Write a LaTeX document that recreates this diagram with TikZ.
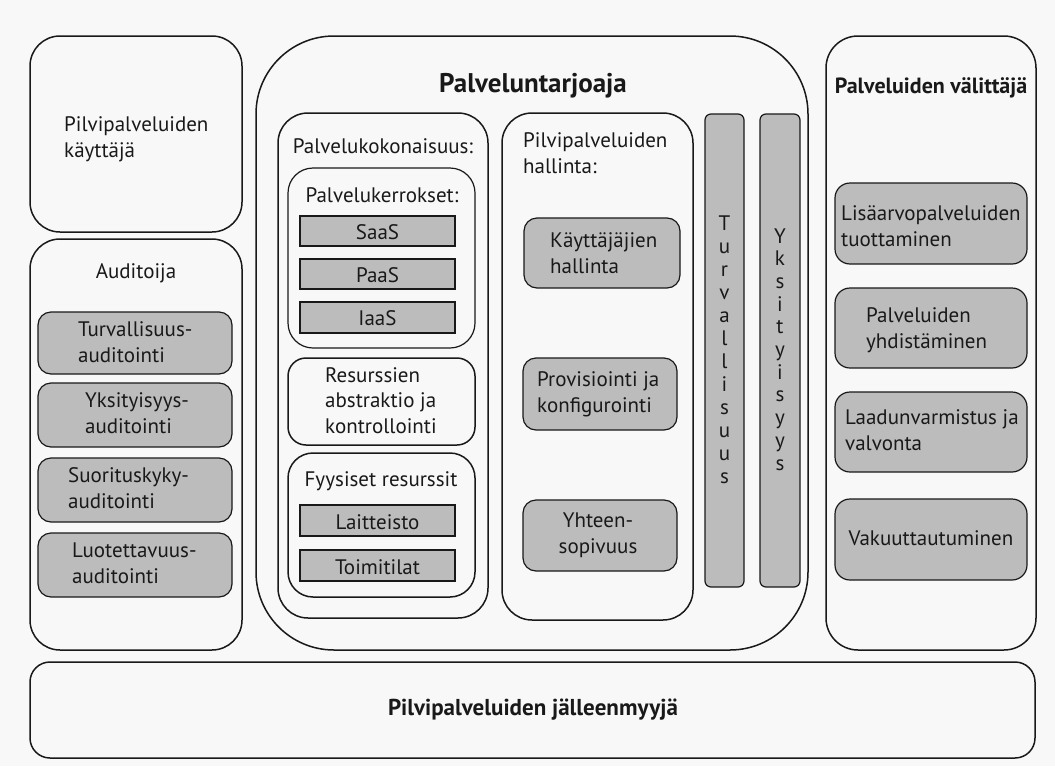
\documentclass[tikz,border=0pt]{standalone}
\usepackage{fontspec}
\setmainfont{PT Sans}
\definecolor{boxgray}{RGB}{188,188,188}
\definecolor{pagebg}{RGB}{248,248,248}
\definecolor{ink}{RGB}{25,25,25}
\tikzset{
  frame/.style={draw=ink, line width=1.5pt, inner sep=0pt, outer sep=0pt, anchor=north west},
  container/.style={frame, rounded corners=30pt},
  greybox/.style={frame, fill=boxgray, line width=1.2pt, rounded corners=13pt},
  layerbox/.style={frame, fill=boxgray, line width=1.2pt},
  columnbox/.style={frame, fill=boxgray, line width=1.2pt, rounded corners=6pt},
  txt/.style={inner sep=0pt, align=left, anchor=base west, font=\fontsize{21}{25.5}\selectfont, text=ink},
  ctxt/.style={txt, align=center, anchor=base},
  title/.style={inner sep=0pt, anchor=base, font=\bfseries\fontsize{22}{25}\selectfont, text=ink},
  letters/.style={inner sep=0pt, align=center, anchor=base, font=\fontsize{21}{23}\selectfont, text=ink}
}
\begin{document}
\begin{tikzpicture}[x=1pt,y=-1pt]
\fill[pagebg] (0,0) rectangle (1055,766);
\useasboundingbox (0,0) rectangle (1055,766);

% Pilvipalveluiden kayttaja (anchors at baseline of last line)
\node[container, minimum width=212pt, minimum height=196pt] (kayttaja) at (30,36) {};
\node[txt] (kayttajaT) at (64,157) {Pilvipalveluiden\\käyttäjä};

% Auditoija
\node[container, minimum width=212pt, minimum height=411pt] (auditoija) at (30,239) {};
\node[ctxt] (auditoijaT) at (136,278) {Auditoija};
\node[greybox, minimum width=194pt, minimum height=62pt] (aud1) at (38,312) {};
\node[txt] (aud1T) at (78,362) {Turvallisuus-\\auditointi};
\node[greybox, minimum width=194pt, minimum height=64pt] (aud2) at (38,383) {};
\node[txt] (aud2T) at (85,433) {Yksityisyys-\\auditointi};
\node[greybox, minimum width=194pt, minimum height=64pt] (aud3) at (38,458) {};
\node[txt] (aud3T) at (68,508) {Suorituskyky-\\auditointi};
\node[greybox, minimum width=194pt, minimum height=64pt] (aud4) at (38,533) {};
\node[txt] (aud4T) at (72,583) {Luotettavuus-\\auditointi};

% Palveluntarjoaja
\node[container, rounded corners=78pt, minimum width=552pt, minimum height=614pt] (tarjoaja) at (256,36) {};
\node[title, font=\bfseries\fontsize{27}{30}\selectfont] (tarjoajaT) at (533,92) {Palveluntarjoaja};

% Palvelukokonaisuus
\node[container, minimum width=210pt, minimum height=505pt] (kokon) at (278,113) {};
\node[ctxt] (kokonT) at (383,153) {Palvelukokonaisuus:};
\node[container, line width=1.2pt, rounded corners=25pt, minimum width=187pt, minimum height=180pt] (kerrokset) at (288,168) {};
\node[ctxt] (kerroksetT) at (382,202) {Palvelukerrokset:};
\node[layerbox, minimum width=155pt, minimum height=30pt] (saas) at (300,216) {};
\node[ctxt] (saasT) at (377.5,239) {SaaS};
\node[layerbox, minimum width=155pt, minimum height=30pt] (paas) at (300,259) {};
\node[ctxt] (paasT) at (377.5,282) {PaaS};
\node[layerbox, minimum width=155pt, minimum height=31pt] (iaas) at (300,302) {};
\node[ctxt] (iaasT) at (377.5,325) {IaaS};
\node[container, rounded corners=18pt, minimum width=187pt, minimum height=87pt] (resurssit) at (288,358) {};
\node[txt] (resurssitT) at (325,433) {Resurssien\\abstraktio ja\\kontrollointi};
\node[container, rounded corners=25pt, minimum width=187pt, minimum height=144pt] (fyysiset) at (288,453) {};
\node[ctxt] (fyysisetT) at (381,486) {Fyysiset resurssit};
\node[layerbox, minimum width=155pt, minimum height=31pt] (laitteisto) at (300,505) {};
\node[ctxt] (laitteistoT) at (377.5,529) {Laitteisto};
\node[layerbox, minimum width=155pt, minimum height=31pt] (toimitilat) at (300,550) {};
\node[ctxt] (toimitilatT) at (377.5,574) {Toimitilat};

% Pilvipalveluiden hallinta
\node[container, minimum width=191pt, minimum height=507pt] (hallinta) at (502,113) {};
\node[txt] (hallintaT) at (523,173) {Pilvipalveluiden\\hallinta:};
\node[greybox, minimum width=156pt, minimum height=70pt] (kayttajahall) at (524,218) {};
\node[txt] (kayttajahallT) at (550,273) {Käyttäjäjien\\hallinta};
\node[greybox, minimum width=154pt, minimum height=72pt] (provisiointi) at (523,358) {};
\node[txt] (provisiointiT) at (537,412) {Provisiointi ja\\konfigurointi};
\node[greybox, minimum width=154pt, minimum height=71pt] (yhteen) at (523,500) {};
\node[ctxt] (yhteenT) at (598,553) {Yhteen-\\sopivuus};

% Columns
\node[columnbox, minimum width=39pt, minimum height=473pt] (turva) at (705,114) {};
\node[letters] (turvaT) at (724.5,483) {T\\u\\r\\v\\a\\l\\l\\i\\s\\u\\u\\s};
\node[columnbox, minimum width=40pt, minimum height=473pt] (yksit) at (760,114) {};
\node[letters, font=\fontsize{21}{22.7}\selectfont] (yksitT) at (780,470) {Y\\k\\s\\i\\t\\y\\i\\s\\y\\y\\s};

% Palveluiden valittaja
\node[container, rounded corners=32pt, minimum width=210pt, minimum height=614pt] (valittaja) at (826,36) {};
\node[title] (valittajaT) at (931,93) {Palveluiden välittäjä};
\node[greybox, rounded corners=15pt, minimum width=192pt, minimum height=81pt] (lisaarvo) at (835,183) {};
\node[txt] (lisaarvoT) at (841,246) {Lisäarvopalveluiden\\tuottaminen};
\node[greybox, rounded corners=15pt, minimum width=192pt, minimum height=80pt] (yhdist) at (835,288) {};
\node[txt] (yhdistT) at (866,348) {Palveluiden\\yhdistäminen};
\node[greybox, rounded corners=15pt, minimum width=192pt, minimum height=80pt] (laadun) at (835,392) {};
\node[txt] (laadunT) at (845,450) {Laadunvarmistus ja\\valvonta};
\node[greybox, rounded corners=15pt, minimum width=192pt, minimum height=81pt] (vakuutus) at (835,499) {};
\node[ctxt] (vakuutusT) at (931,545) {Vakuuttautuminen};

% Jalleenmyyja
\node[container, rounded corners=20pt, minimum width=1005pt, minimum height=96pt] (jalleen) at (30,662) {};
\node[title, font=\bfseries\fontsize{23}{26}\selectfont] (jalleenT) at (533,715) {Pilvipalveluiden jälleenmyyjä};
\end{tikzpicture}
\end{document}
